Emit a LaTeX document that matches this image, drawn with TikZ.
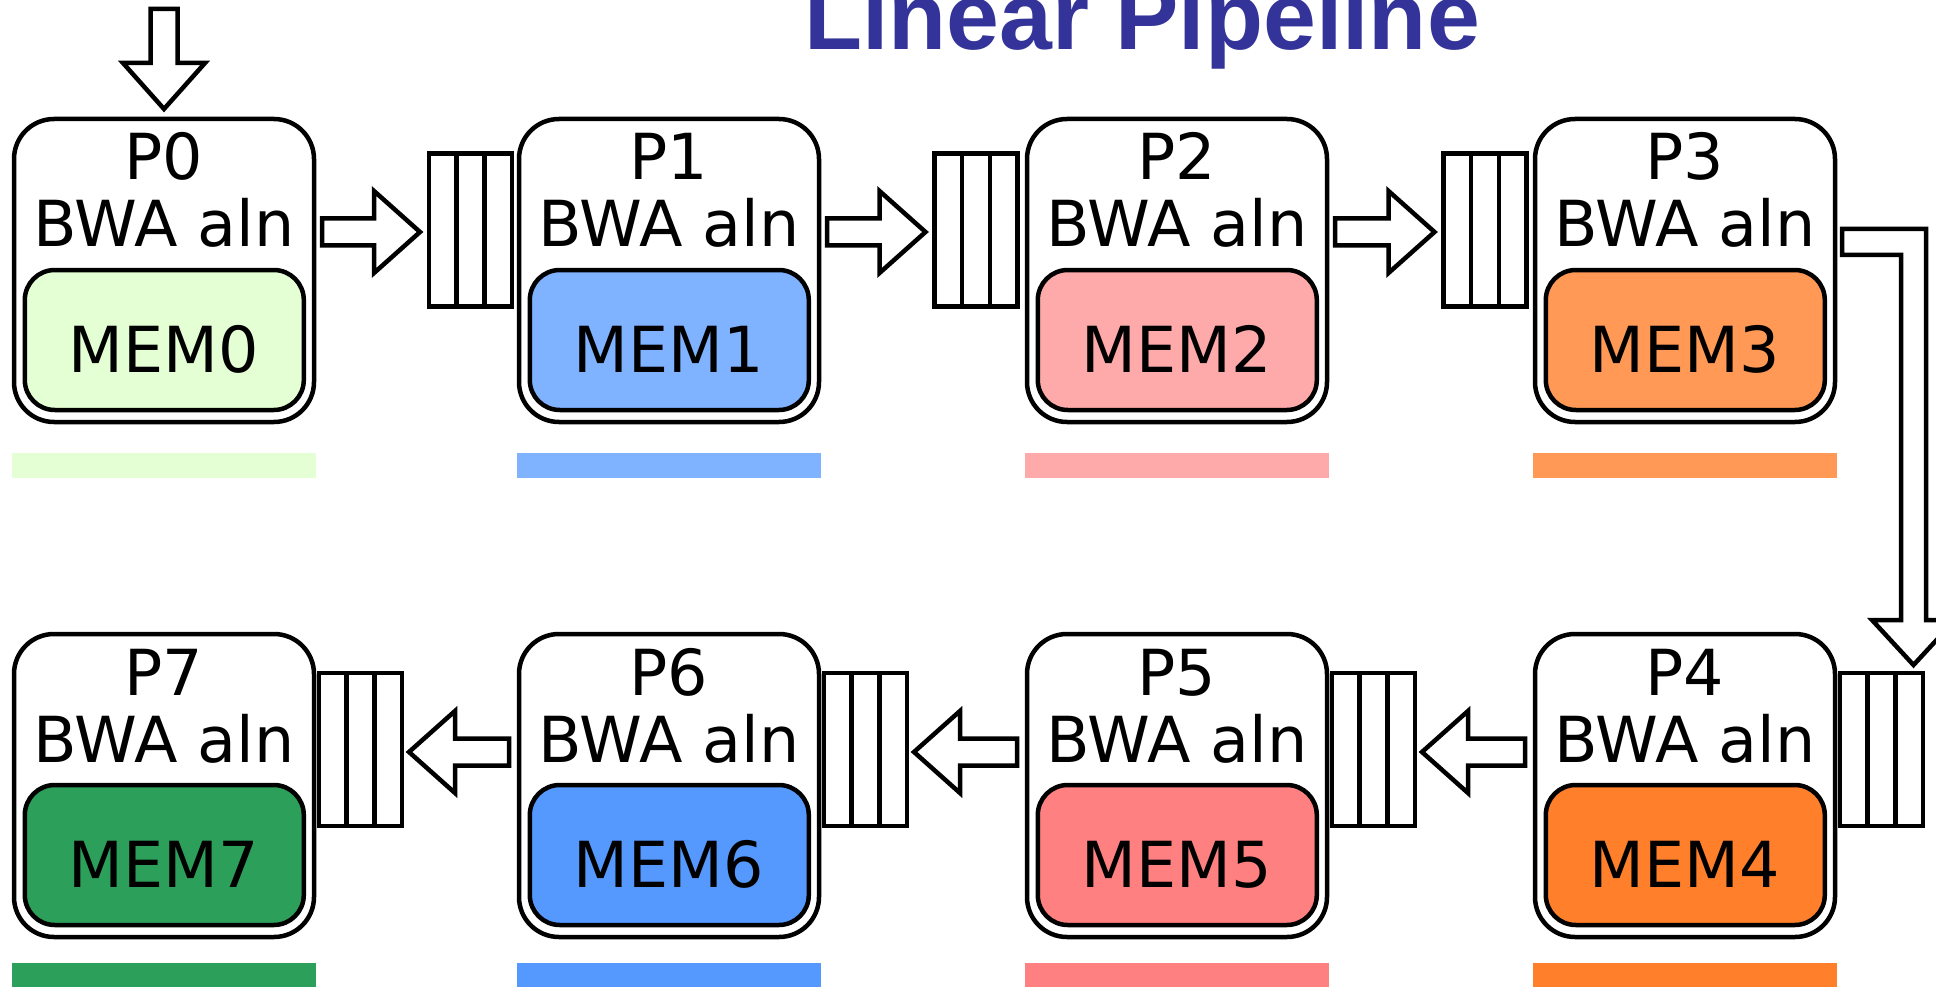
\documentclass[tikz,border=0pt]{standalone}
\usepackage{fontspec}
\setmainfont{DejaVu Sans}
\newfontfamily\headfont{Liberation Sans}
\usetikzlibrary{calc}

\definecolor{memA}{HTML}{E5FFD5}
\definecolor{memB}{HTML}{80B3FF}
\definecolor{memC}{HTML}{FFAAAA}
\definecolor{memD}{HTML}{FF9955}
\definecolor{memE}{HTML}{FF7F2A}
\definecolor{memF}{HTML}{FF8080}
\definecolor{memG}{HTML}{5599FF}
\definecolor{memH}{HTML}{2CA05A}
\definecolor{titleblue}{HTML}{333399}

\tikzset{
  procbox/.style={draw, line width=4.5pt, rounded corners=40pt, fill=white,
    minimum width=300pt, minimum height=303pt, inner sep=0pt, outer sep=0pt},
  membox/.style={draw, line width=4.5pt, rounded corners=30pt,
    minimum width=279pt, minimum height=140pt, inner sep=0pt, outer sep=0pt},
  lbl/.style={anchor=base, inner sep=0pt, font=\fontsize{63.5}{63.5}\selectfont},
  queuebox/.style={draw, line width=4.5pt, fill=white,
    minimum width=83pt, minimum height=153pt, inner sep=0pt, outer sep=0pt},
  qline/.style={line width=4.5pt},
  arw/.style={draw, line width=4.5pt, fill=white, line join=miter},
  headline/.style={anchor=base, inner sep=0pt, text=titleblue,
    font=\headfont\bfseries\fontsize{95}{95}\selectfont},
}

% block arrow from #1 (flat tail) to #2 (tip)
\newcommand\blockarrow[2]{%
  \path ($(#2)!46pt!(#1)$) coordinate (hb);
  \draw[arw] ($(#1)!13.5pt!90:(#2)$) -- ($(hb)!13.5pt!90:(#2)$)
    -- ($(hb)!41pt!90:(#2)$) -- (#2) -- ($(hb)!41pt!-90:(#2)$)
    -- ($(hb)!13.5pt!-90:(#2)$) -- ($(#1)!13.5pt!-90:(#2)$) -- cycle;
}

\begin{document}
\begin{tikzpicture}[x=1pt,y=-1pt]
\useasboundingbox (0,0) rectangle (1936,987);
\fill[white] (0,0) rectangle (1936,987);

\node[headline] (title) at (1142,50) {Linear Pipeline};

% processes with their memories and colour bars
\foreach \i/\px/\py/\c/\by in {0/164/270.5/memA/453, 1/669/270.5/memB/453,
    2/1177/270.5/memC/453, 3/1685/270.5/memD/453, 4/1685/785.5/memE/963,
    5/1177/785.5/memF/963, 6/669/785.5/memG/963, 7/164/785.5/memH/963}{
  \node[procbox] (p\i) at (\px,\py) {};
  \node[membox, fill=\c] (m\i) at ($(p\i.center)+(0.3,69.5)$) {};
  \node[lbl] (n\i) at ($(p\i.north)+(0,61)$) {P\i};
  \node[lbl] (w\i) at ($(p\i.north)+(0,128)$) {BWA aln};
  \node[lbl] (k\i) at ($(p\i.north)+(0,253)$) {MEM\i};
  \fill[\c] (\px-152,\by) rectangle (\px+152,\by+25);
}

% input queues
\foreach \j/\qx/\qy in {1/470.5/230, 2/976/230, 3/1485/230,
    4/1881.5/749.5, 5/1373.5/749.5, 6/865.5/749.5, 7/360.5/749.5}{
  \node[queuebox] (q\j) at (\qx,\qy) {};
  \draw[qline] ($(q\j.north west)!1/3!(q\j.north east)$) -- ($(q\j.south west)!1/3!(q\j.south east)$);
  \draw[qline] ($(q\j.north west)!2/3!(q\j.north east)$) -- ($(q\j.south west)!2/3!(q\j.south east)$);
}

% input arrow
\coordinate (src) at ($(p0.north)+(0,-110)$);
\coordinate (srcend) at ($(p0.north)+(0,-10)$);
\blockarrow{src}{srcend}

% upper row, left to right
\coordinate (a1s) at ($(p0.east |- q1.west)+(8,2)$);
\coordinate (a1e) at ($(q1.west)+(-9,2)$);
\blockarrow{a1s}{a1e}
\coordinate (a2s) at ($(p1.east |- q2.west)+(8,2)$);
\coordinate (a2e) at ($(q2.west)+(-9,2)$);
\blockarrow{a2s}{a2e}
\coordinate (a3s) at ($(p2.east |- q3.west)+(8,2)$);
\coordinate (a3e) at ($(q3.west)+(-9,2)$);
\blockarrow{a3s}{a3e}

% bent arrow from P3 down to the queue of P4
\coordinate (bs) at ($(p3.east)+(7,-28.5)$);
\coordinate (bt) at ($(q4.north)+(32,-8)$);
\draw[arw] ($(bs)+(0,-13)$) -- ($(bs -| bt)+(12.5,-13)$) -- ($(bt)+(12.5,-45)$)
  -- ($(bt)+(41.5,-45)$) -- (bt) -- ($(bt)+(-41.5,-45)$) -- ($(bt)+(-12.5,-45)$)
  -- ($(bs -| bt)+(-12.5,13)$) -- ($(bs)+(0,13)$) -- cycle;

% lower row, right to left
\coordinate (a5s) at ($(p4.west |- q5.east)+(-10,2.5)$);
\coordinate (a5e) at ($(q5.east)+(7,2.5)$);
\blockarrow{a5s}{a5e}
\coordinate (a6s) at ($(p5.west |- q6.east)+(-10,2.5)$);
\coordinate (a6e) at ($(q6.east)+(7,2.5)$);
\blockarrow{a6s}{a6e}
\coordinate (a7s) at ($(p6.west |- q7.east)+(-10,2.5)$);
\coordinate (a7e) at ($(q7.east)+(7,2.5)$);
\blockarrow{a7s}{a7e}
\end{tikzpicture}
\end{document}
